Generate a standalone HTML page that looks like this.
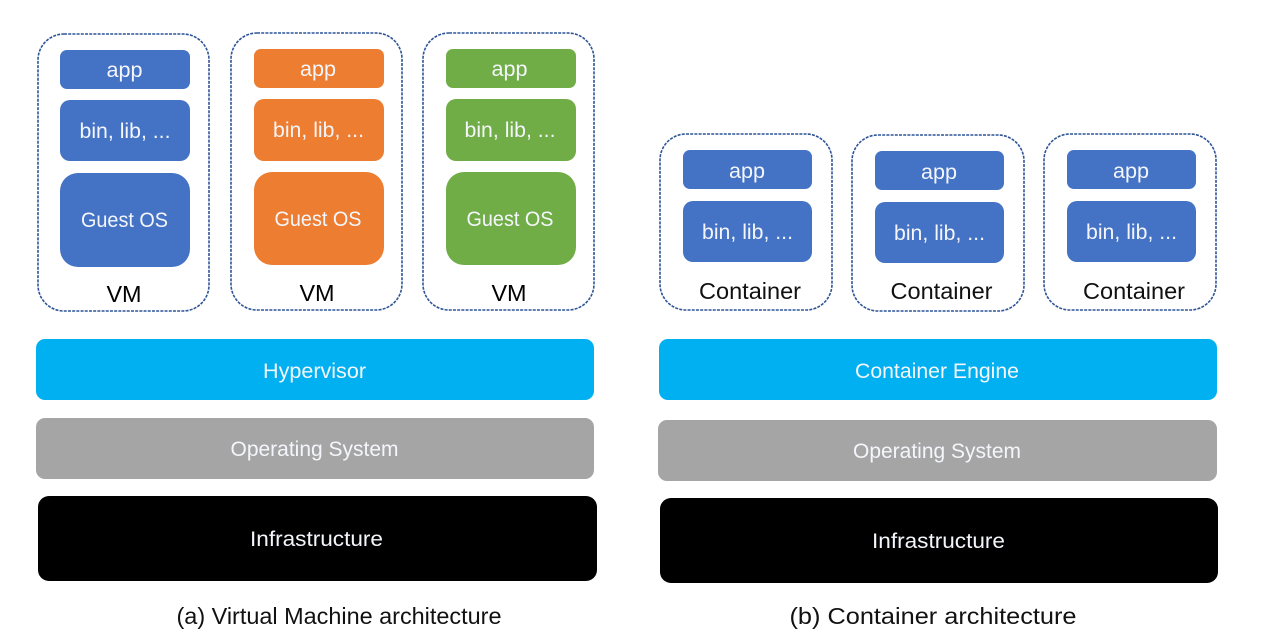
<!DOCTYPE html>
<html><head><meta charset="utf-8"><style>
html,body{margin:0;padding:0;background:#fff}
svg{display:block;filter:blur(.35px)}
text{font-family:"Liberation Sans",sans-serif;text-anchor:middle}
.w{fill:#f4f6fb;font-size:21.5px}
.k{fill:#000;font-size:23.4px}
.c{fill:#111;font-size:23.4px}
.d{fill:none;stroke:#2f5597;stroke-width:1.6;stroke-dasharray:3 1.2}
.b{fill:#4472c4}.o{fill:#ed7d31}.g{fill:#70ad47}
</style></head><body>
<svg width="1280" height="641" viewBox="0 0 1280 641" xmlns="http://www.w3.org/2000/svg">
<rect width="1280" height="641" fill="#fff"/>
<!-- VM 1 -->
<rect class="d" x="38" y="34" width="171" height="277" rx="26"/>
<rect class="b" x="60" y="50" width="130" height="39" rx="7"/>
<rect class="b" x="60" y="100" width="130" height="61" rx="10"/>
<rect class="b" x="60" y="173" width="130" height="94" rx="18"/>
<text class="w" x="124.500" y="77" textLength="36" lengthAdjust="spacingAndGlyphs">app</text>
<text class="w" x="125" y="138" textLength="91" lengthAdjust="spacingAndGlyphs">bin, lib, ...</text>
<text class="w" x="124.500" y="227" textLength="87" lengthAdjust="spacingAndGlyphs">Guest OS</text>
<text class="k" x="124" y="302">VM</text>
<!-- VM 2 -->
<rect class="d" x="231" y="33" width="171" height="277" rx="26"/>
<rect class="o" x="254" y="49" width="130" height="39" rx="7"/>
<rect class="o" x="254" y="99" width="130" height="62" rx="10"/>
<rect class="o" x="254" y="172" width="130" height="93" rx="18"/>
<text class="w" x="318" y="76" textLength="36" lengthAdjust="spacingAndGlyphs">app</text>
<text class="w" x="318.500" y="137" textLength="91" lengthAdjust="spacingAndGlyphs">bin, lib, ...</text>
<text class="w" x="318" y="226" textLength="87" lengthAdjust="spacingAndGlyphs">Guest OS</text>
<text class="k" x="317" y="301">VM</text>
<!-- VM 3 -->
<rect class="d" x="423" y="33" width="171" height="277" rx="26"/>
<rect class="g" x="446" y="49" width="130" height="39" rx="7"/>
<rect class="g" x="446" y="99" width="130" height="62" rx="10"/>
<rect class="g" x="446" y="172" width="130" height="93" rx="18"/>
<text class="w" x="509.500" y="76" textLength="36" lengthAdjust="spacingAndGlyphs">app</text>
<text class="w" x="510" y="137" textLength="91" lengthAdjust="spacingAndGlyphs">bin, lib, ...</text>
<text class="w" x="510" y="226" textLength="87" lengthAdjust="spacingAndGlyphs">Guest OS</text>
<text class="k" x="509" y="301">VM</text>
<!-- Containers -->
<rect class="d" x="660" y="134" width="172" height="176" rx="26"/>
<rect class="b" x="683" y="150" width="129" height="39" rx="7"/>
<rect class="b" x="683" y="201" width="129" height="61" rx="10"/>
<text class="w" x="747" y="178" textLength="36" lengthAdjust="spacingAndGlyphs">app</text>
<text class="w" x="747.500" y="239" textLength="91" lengthAdjust="spacingAndGlyphs">bin, lib, ...</text>
<text class="c" x="750" y="299" textLength="102" lengthAdjust="spacingAndGlyphs">Container</text>

<rect class="d" x="852" y="135" width="172" height="176" rx="26"/>
<rect class="b" x="875" y="151" width="129" height="39" rx="7"/>
<rect class="b" x="875" y="202" width="129" height="61" rx="10"/>
<text class="w" x="939" y="179" textLength="36" lengthAdjust="spacingAndGlyphs">app</text>
<text class="w" x="939.500" y="240" textLength="91" lengthAdjust="spacingAndGlyphs">bin, lib, ...</text>
<text class="c" x="941.500" y="299" textLength="102" lengthAdjust="spacingAndGlyphs">Container</text>

<rect class="d" x="1044" y="134" width="172" height="176" rx="26"/>
<rect class="b" x="1067" y="150" width="129" height="39" rx="7"/>
<rect class="b" x="1067" y="201" width="129" height="61" rx="10"/>
<text class="w" x="1131" y="178" textLength="36" lengthAdjust="spacingAndGlyphs">app</text>
<text class="w" x="1131.500" y="239" textLength="91" lengthAdjust="spacingAndGlyphs">bin, lib, ...</text>
<text class="c" x="1134" y="299" textLength="102" lengthAdjust="spacingAndGlyphs">Container</text>
<!-- Layers left -->
<rect x="36" y="339" width="558" height="61" rx="9" fill="#00b0f0"/>
<rect x="36" y="418" width="558" height="61" rx="9" fill="#a5a5a5"/>
<rect x="38" y="496" width="559" height="85" rx="11" fill="#000"/>
<text class="w" x="314.500" y="378" textLength="103" lengthAdjust="spacingAndGlyphs">Hypervisor</text>
<text class="w" x="314.500" y="456" textLength="168" lengthAdjust="spacingAndGlyphs">Operating System</text>
<text class="w" x="316.500" y="546" textLength="133" lengthAdjust="spacingAndGlyphs">Infrastructure</text>
<!-- Layers right -->
<rect x="659" y="339" width="558" height="61" rx="9" fill="#00b0f0"/>
<rect x="658" y="420" width="559" height="61" rx="9" fill="#a5a5a5"/>
<rect x="660" y="498" width="558" height="85" rx="11" fill="#000"/>
<text class="w" x="937" y="378" textLength="164" lengthAdjust="spacingAndGlyphs">Container Engine</text>
<text class="w" x="937" y="458" textLength="168" lengthAdjust="spacingAndGlyphs">Operating System</text>
<text class="w" x="938.500" y="548" textLength="133" lengthAdjust="spacingAndGlyphs">Infrastructure</text>
<!-- Captions -->
<text class="c" x="339" y="624" textLength="325" lengthAdjust="spacingAndGlyphs">(a) Virtual Machine architecture</text>
<text class="c" x="933" y="624" textLength="287" lengthAdjust="spacingAndGlyphs">(b) Container architecture</text>
</svg>
</body></html>
